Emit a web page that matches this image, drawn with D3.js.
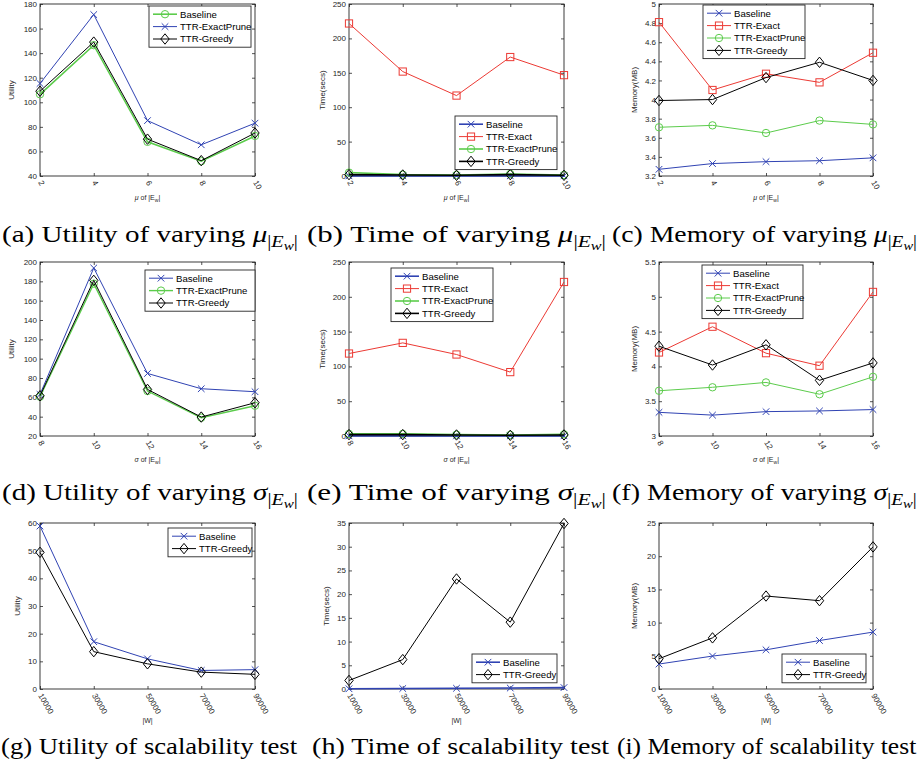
<!DOCTYPE html>
<html><head><meta charset="utf-8">
<script src="https://cdn.jsdelivr.net/npm/d3@7"></script>
<style>body{margin:0;background:#fff} svg{display:block}</style>
</head><body><svg id="c" width="920" height="768"></svg>
<script>
// ---------- data ----------
const muX = ["2","4","6","8","10"];
const sigmaX = ["8","10","12","14","16"];
const wX = ["10000","30000","50000","70000","90000"];

// (a) utility vs mu
const aBaseline   = [106.5,146.5,67.8,52.0,72.6];
const aExactPrune = [115.3,171.4,85.1,65.4,83.0];
const aGreedy     = [109.0,149.0,70.0,52.5,75.0];
// (b) time vs mu
const bBaseline   = [0.2,0.2,0.2,0.2,0.2];
const bExact      = [221.7,151.8,116.9,172.9,146.6];
const bExactPrune = [5.0,2.0,1.5,3.0,1.5];
const bGreedy     = [2.0,1.5,1.0,2.0,1.0];
// (c) memory vs mu
const cBaseline   = [3.27,3.33,3.35,3.36,3.39];
const cExact      = [4.81,4.10,4.27,4.18,4.49];
const cExactPrune = [3.71,3.73,3.65,3.78,3.74];
const cGreedy     = [3.99,4.00,4.23,4.39,4.20];
// (d) utility vs sigma
const dBaseline   = [63.0,193.8,84.7,68.9,65.8];
const dExactPrune = [60.6,177.6,66.5,38.9,51.3];
const dGreedy     = [61.6,181.0,68.2,39.6,54.4];
// (e) time vs sigma
const eBaseline   = [0.2,0.2,0.2,0.2,0.2];
const eExact      = [118.5,133.8,117.1,91.8,221.3];
const eExactPrune = [3.0,3.0,2.0,1.5,2.5];
const eGreedy     = [2.0,2.0,1.5,1.0,1.5];
// (f) memory vs sigma
const fBaseline   = [3.34,3.30,3.35,3.36,3.38];
const fExact      = [4.20,4.57,4.19,4.01,5.07];
const fExactPrune = [3.65,3.70,3.77,3.60,3.85];
const fGreedy     = [4.29,4.02,4.31,3.80,4.05];
// (g) utility vs |W|
const gBaseline   = [58.9,17.1,10.9,6.7,7.0];
const gGreedy     = [49.4,13.5,9.1,6.1,5.3];
// (h) time vs |W|
const hBaseline   = [0.05,0.1,0.15,0.2,0.3];
const hGreedy     = [1.8,6.2,23.2,14.1,34.9];
// (i) memory vs |W|
const iBaseline   = [3.76,4.96,5.9,7.3,8.57];
const iGreedy     = [4.56,7.7,14.0,13.3,21.4];

const utilTicksA = [40,60,80,100,120,140,160,180];
const timeTicks  = [0,50,100,150,200,250];
const memTicksC  = [3.2,3.4,3.6,3.8,4,4.2,4.4,4.6,4.8,5];
const utilTicksD = [20,40,60,80,100,120,140,160,180,200];
const memTicksF  = [3,3.5,4,4.5,5,5.5];
const utilTicksG = [0,10,20,30,40,50,60];
const timeTicksH = [0,5,10,15,20,25,30,35];
const memTicksI  = [0,5,10,15,20,25];

// ---------- styling ----------
const COL = {blue:"#3043b3", red:"#ec3a34", green:"#5ccc4c", black:"#000000"};
const S = {
  Baseline:        {c:COL.blue, m:"x"},
  "TTR-Exact":     {c:COL.red, m:"s"},
  "TTR-ExactPrune":{c:COL.green, m:"o"},
  "TTR-Greedy":    {c:COL.black, m:"d"}
};
const svg = d3.select("#c");
const AX = "#262626";
const SANS = "'Liberation Sans', Arial, sans-serif";
const SERIF = "'Liberation Serif', 'Times New Roman', serif";

function drawMarker(g, type, color){
  if(type==="o") g.append("circle").attr("r",3.7).attr("fill","none").attr("stroke",color).attr("stroke-width",1);
  else if(type==="s") g.append("rect").attr("x",-3.6).attr("y",-3.6).attr("width",7.2).attr("height",7.2).attr("fill","none").attr("stroke",color).attr("stroke-width",1);
  else if(type==="d") g.append("path").attr("d","M0,-5.2L4.2,0L0,5.2L-4.2,0Z").attr("fill","none").attr("stroke",color).attr("stroke-width",1);
  else if(type==="x") g.append("path").attr("d","M-3.3,-3.3L3.3,3.3M-3.3,3.3L3.3,-3.3").attr("fill","none").attr("stroke",color).attr("stroke-width",1);
}

function panel(cfg){
  const g = svg.append("g");
  const x = d3.scalePoint().domain(cfg.cats).range([cfg.x0,cfg.x1]).padding(0);
  const y = d3.scaleLinear().domain([cfg.yTicks[0], cfg.yTicks[cfg.yTicks.length-1]]).range([cfg.y1,cfg.y0]);
  const fmt = d3.format("~g");
  const sty = s => Object.assign({}, S[s.name], cfg.styles ? cfg.styles[s.name] : {});
  // frame
  g.append("rect").attr("x",cfg.x0).attr("y",cfg.y0).attr("width",cfg.x1-cfg.x0).attr("height",cfg.y1-cfg.y0)
    .attr("fill","#fff").attr("stroke",AX).attr("stroke-width",0.9);
  const styleAx = s=>{ s.select(".domain").remove(); s.selectAll("line").attr("stroke",AX).attr("stroke-width",0.8);
    s.selectAll("text").attr("fill",AX).style("font-family",SANS).style("font-size","8px"); };
  g.append("g").attr("transform",`translate(${cfg.x0},0)`).call(d3.axisLeft(y).tickValues(cfg.yTicks).tickSizeInner(-3).tickSizeOuter(0).tickPadding(3).tickFormat(fmt)).call(styleAx);
  g.append("g").attr("transform",`translate(${cfg.x1},0)`).call(d3.axisRight(y).tickValues(cfg.yTicks).tickSizeInner(-3).tickSizeOuter(0).tickFormat("")).call(styleAx);
  g.append("g").attr("transform",`translate(0,${cfg.y0})`).call(d3.axisTop(x).tickSizeInner(-3).tickSizeOuter(0).tickFormat("")).call(styleAx);
  const bx = g.append("g").attr("transform",`translate(0,${cfg.y1})`).call(d3.axisBottom(x).tickSizeInner(-3).tickSizeOuter(0).tickPadding(4)).call(styleAx);
  bx.selectAll(".tick text").attr("text-anchor","start").attr("y",null).attr("dy","0.35em")
    .attr("transform","translate(0,5) rotate(60)");
  // y label
  g.append("text").attr("transform",`translate(${cfg.yLabX},${(cfg.y0+cfg.y1)/2}) rotate(-90)`)
    .attr("text-anchor","middle").attr("fill",AX).style("font-family",SANS).style("font-size","8px").text(cfg.yLabel);
  // x label
  const xl = g.append("text").attr("x",(cfg.x0+cfg.x1)/2).attr("y",cfg.xLabY).attr("text-anchor","middle")
    .attr("fill",AX).style("font-family",SANS).style("font-size","7px");
  if(cfg.xLabel==="W"){ xl.text("|W|"); }
  else {
    xl.append("tspan").style("font-style","italic").text(cfg.xLabel);
    xl.append("tspan").text(" of |E");
    xl.append("tspan").attr("dy",2).style("font-size","5px").text("w");
    xl.append("tspan").attr("dy",-2).text("|");
  }
  // series
  const line = d3.line().x((d,i)=>x(cfg.cats[i])).y(d=>y(d));
  cfg.series.forEach(s=>{
    const st = sty(s);
    g.append("path").datum(s.v).attr("d",line).attr("fill","none").attr("stroke",st.c).attr("stroke-width",st.w||1);
    s.v.forEach((d,i)=>{ drawMarker(g.append("g").attr("transform",`translate(${x(cfg.cats[i])},${y(d)})`), st.m, st.c); });
  });
  // legend
  const L = cfg.legend;
  const names = L.order;
  const lg = g.append("g");
  lg.append("rect").attr("x",L.x).attr("y",L.y).attr("width",L.w).attr("height",names.length*12.4+4)
    .attr("fill","#fff").attr("stroke",AX).attr("stroke-width",0.9);
  names.forEach((n,k)=>{
    const st = sty({name:n}); const yy = L.y + 8.2 + k*12.4;
    lg.append("line").attr("x1",L.x+4).attr("x2",L.x+28).attr("y1",yy).attr("y2",yy).attr("stroke",st.c).attr("stroke-width",st.w||1);
    drawMarker(lg.append("g").attr("transform",`translate(${L.x+16},${yy})`), st.m, st.c);
    lg.append("text").attr("x",L.x+31).attr("y",yy).attr("dy","0.35em").attr("fill","#000")
      .style("font-family",SANS).style("font-size","9.6px").text(n);
  });
}

const col = [{x0:40,x1:255,lx:14},{x0:349,x1:564,lx:325},{x0:659,x1:873,lx:637}];
const row = [{y0:4,y1:176,xl:200},{y0:262,y1:436,xl:462},{y0:523,y1:689,xl:723}];
const thick = {w:1.6};

panel({x0:col[0].x0,x1:col[0].x1,y0:row[0].y0,y1:row[0].y1,yLabX:col[0].lx,xLabY:row[0].xl,cats:muX,yTicks:utilTicksA,yLabel:"Utility",xLabel:"μ",
  styles:{Baseline:{c:COL.green,m:"o",w:1.6},"TTR-ExactPrune":{c:COL.blue,m:"x"}},
  series:[{name:"Baseline",v:aBaseline},{name:"TTR-ExactPrune",v:aExactPrune},{name:"TTR-Greedy",v:aGreedy}],
  legend:{x:149,y:6,w:102,order:["Baseline","TTR-ExactPrune","TTR-Greedy"]}});
panel({x0:col[1].x0,x1:col[1].x1,y0:row[0].y0,y1:row[0].y1,yLabX:col[1].lx,xLabY:row[0].xl,cats:muX,yTicks:timeTicks,yLabel:"Time(secs)",xLabel:"μ",
  styles:{Baseline:thick,"TTR-ExactPrune":thick,"TTR-Greedy":thick},
  series:[{name:"Baseline",v:bBaseline},{name:"TTR-Exact",v:bExact},{name:"TTR-ExactPrune",v:bExactPrune},{name:"TTR-Greedy",v:bGreedy}],
  legend:{x:455,y:116,w:102,order:["Baseline","TTR-Exact","TTR-ExactPrune","TTR-Greedy"]}});
panel({x0:col[2].x0,x1:col[2].x1,y0:row[0].y0,y1:row[0].y1,yLabX:col[2].lx,xLabY:row[0].xl,cats:muX,yTicks:memTicksC,yLabel:"Memory(MB)",xLabel:"μ",
  series:[{name:"Baseline",v:cBaseline},{name:"TTR-Exact",v:cExact},{name:"TTR-ExactPrune",v:cExactPrune},{name:"TTR-Greedy",v:cGreedy}],
  legend:{x:703,y:5,w:102,order:["Baseline","TTR-Exact","TTR-ExactPrune","TTR-Greedy"]}});

panel({x0:col[0].x0,x1:col[0].x1,y0:row[1].y0,y1:row[1].y1,yLabX:col[0].lx,xLabY:row[1].xl,cats:sigmaX,yTicks:utilTicksD,yLabel:"Utility",xLabel:"σ",
  styles:{"TTR-ExactPrune":{w:1.4}},
  series:[{name:"Baseline",v:dBaseline},{name:"TTR-ExactPrune",v:dExactPrune},{name:"TTR-Greedy",v:dGreedy}],
  legend:{x:145,y:270,w:110,order:["Baseline","TTR-ExactPrune","TTR-Greedy"]}});
panel({x0:col[1].x0,x1:col[1].x1,y0:row[1].y0,y1:row[1].y1,yLabX:col[1].lx,xLabY:row[1].xl,cats:sigmaX,yTicks:timeTicks,yLabel:"Time(secs)",xLabel:"σ",
  styles:{Baseline:thick,"TTR-ExactPrune":thick,"TTR-Greedy":thick},
  series:[{name:"Baseline",v:eBaseline},{name:"TTR-Exact",v:eExact},{name:"TTR-ExactPrune",v:eExactPrune},{name:"TTR-Greedy",v:eGreedy}],
  legend:{x:391,y:268,w:102,order:["Baseline","TTR-Exact","TTR-ExactPrune","TTR-Greedy"]}});
panel({x0:col[2].x0,x1:col[2].x1,y0:row[1].y0,y1:row[1].y1,yLabX:col[2].lx,xLabY:row[1].xl,cats:sigmaX,yTicks:memTicksF,yLabel:"Memory(MB)",xLabel:"σ",
  series:[{name:"Baseline",v:fBaseline},{name:"TTR-Exact",v:fExact},{name:"TTR-ExactPrune",v:fExactPrune},{name:"TTR-Greedy",v:fGreedy}],
  legend:{x:702,y:265,w:101,order:["Baseline","TTR-Exact","TTR-ExactPrune","TTR-Greedy"]}});

panel({x0:col[0].x0,x1:col[0].x1,y0:row[2].y0,y1:row[2].y1,yLabX:col[0].lx+6,xLabY:row[2].xl,cats:wX,yTicks:utilTicksG,yLabel:"Utility",xLabel:"W",
  series:[{name:"Baseline",v:gBaseline},{name:"TTR-Greedy",v:gGreedy}],
  legend:{x:168,y:528,w:84,order:["Baseline","TTR-Greedy"]}});
panel({x0:col[1].x0,x1:col[1].x1,y0:row[2].y0,y1:row[2].y1,yLabX:col[1].lx+4,xLabY:row[2].xl,cats:wX,yTicks:timeTicksH,yLabel:"Time(secs)",xLabel:"W",
  styles:{Baseline:thick},
  series:[{name:"Baseline",v:hBaseline},{name:"TTR-Greedy",v:hGreedy}],
  legend:{x:472,y:654,w:85,order:["Baseline","TTR-Greedy"]}});
panel({x0:col[2].x0,x1:col[2].x1,y0:row[2].y0,y1:row[2].y1,yLabX:col[2].lx,xLabY:row[2].xl,cats:wX,yTicks:memTicksI,yLabel:"Memory(MB)",xLabel:"W",
  series:[{name:"Baseline",v:iBaseline},{name:"TTR-Greedy",v:iGreedy}],
  legend:{x:782,y:654,w:84,order:["Baseline","TTR-Greedy"]}});

// ---------- captions ----------
const captions = [
  {x:2, x2:298, y:242, pre:"(a) Utility of varying ", sym:"μ"},
  {x:307, x2:606, y:242, pre:"(b) Time of varying ", sym:"μ"},
  {x:612, x2:917, y:242, pre:"(c) Memory of varying ", sym:"μ"},
  {x:2, x2:298, y:500, pre:"(d) Utility of varying ", sym:"σ"},
  {x:307, x2:606, y:500, pre:"(e) Time of varying ", sym:"σ"},
  {x:612, x2:917, y:500, pre:"(f) Memory of varying ", sym:"σ"},
  {x:1, x2:298, y:754, pre:"(g) Utility of scalability test", sym:null},
  {x:312, x2:610, y:754, pre:"(h) Time of scalability test", sym:null},
  {x:617, x2:917, y:754, pre:"(i) Memory of scalability test", sym:null}
];
captions.forEach(c=>{
  const t = svg.append("text").attr("transform",`translate(${c.x},${c.y})`).attr("fill","#000")
    .style("font-family",SERIF).style("font-size","23px");
  t.append("tspan").text(c.pre);
  if(c.sym){
    t.append("tspan").style("font-style","italic").text(c.sym);
    t.append("tspan").attr("dy",5).style("font-size","16px").text("|");
    t.append("tspan").style("font-size","16px").style("font-style","italic").text("E");
    t.append("tspan").attr("dy",3).style("font-size","12px").style("font-style","italic").text("w");
    t.append("tspan").attr("dy",-3).style("font-size","16px").text("|");
  }
  const w = t.node().getBBox().width;
  t.attr("transform",`translate(${c.x},${c.y}) scale(${(c.x2-c.x)/w},1)`);
});
</script></body></html>
